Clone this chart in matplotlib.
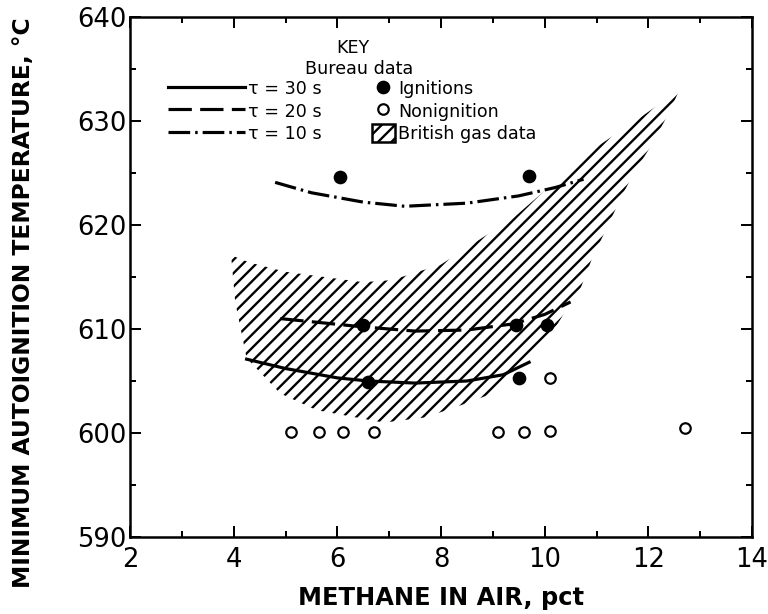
import numpy as np
import matplotlib
matplotlib.use("Agg")
from matplotlib import pyplot as plt
from matplotlib.lines import Line2D
import matplotlib.patches as mpatches
from matplotlib.ticker import MultipleLocator

# curves (methane pct, temperature C)
tau30_x = [4.25, 5.0, 6.0, 6.6, 7.5, 8.5, 9.2, 9.7]
tau30_y = [607.1, 606.2, 605.3, 605.0, 604.8, 605.0, 605.6, 606.8]
tau20_x = [4.9, 5.5, 6.5, 7.5, 8.5, 9.4, 10.0, 10.5]
tau20_y = [611.0, 610.7, 610.2, 609.8, 609.9, 610.5, 611.4, 612.6]
tau10_x = [4.8, 5.5, 6.5, 7.3, 8.5, 9.5, 10.2, 10.75]
tau10_y = [624.1, 623.1, 622.2, 621.8, 622.1, 622.8, 623.6, 624.4]

# bureau data points
ign_x = [6.05, 9.7, 6.5, 9.45, 10.05, 6.6, 9.5]
ign_y = [624.6, 624.7, 610.4, 610.4, 610.4, 604.9, 605.3]
nonign_x = [5.1, 5.65, 6.1, 6.7, 9.1, 9.6, 10.1, 10.1, 12.7]
nonign_y = [600.1, 600.1, 600.1, 600.1, 600.1, 600.1, 600.2, 605.3, 600.5]

# british gas band outline: upper edge left->right, then lower edge right->left
band_upper_x = [3.95, 4.3, 5.0, 5.9, 6.5, 7.05, 8.0, 8.65, 9.4, 10.4, 11.0, 11.75, 12.6]
band_upper_y = [617.1, 616.4, 615.5, 614.9, 614.5, 614.7, 616.2, 618.3, 620.7, 625.0, 627.5, 630.0, 633.0]
band_lower_x = [12.4, 12.05, 11.7, 11.5, 11.3, 11.1, 10.9, 10.7, 10.35, 10.0, 9.1, 8.4, 7.7, 6.9, 5.6, 4.9, 4.25, 4.03]
band_lower_y = [630.8, 627.6, 624.8, 622.9, 620.8, 618.7, 616.6, 614.0, 611.3, 608.5, 604.0, 602.7, 601.5, 601.0, 602.2, 603.8, 607.2, 612.6]

plt.rcParams['font.family'] = ['DejaVu Sans']
plt.rcParams['hatch.linewidth'] = 1.4
plt.rcParams['lines.scale_dashes'] = False

fig = plt.figure(figsize=(6.4, 614 / 120), dpi=120)
ax = fig.add_axes([130 / 768, 1 - 537 / 614, 622 / 768, 520 / 614])

# hatched band
ax.fill(band_upper_x + band_lower_x, band_upper_y + band_lower_y,
        facecolor='none', edgecolor='black', linewidth=0, hatch='///')

lw = 1.9
ax.plot(tau30_x, tau30_y, color='black', lw=lw)
ax.plot(tau20_x, tau20_y, color='black', lw=lw, dashes=(14, 5))
ax.plot(tau10_x, tau10_y, color='black', lw=lw, dashes=(13, 3, 1.5, 3))

ax.plot(ign_x, ign_y, 'o', color='black', ms=7.2, ls='none')
ax.plot(nonign_x, nonign_y, 'o', mfc='white', mec='black', mew=1.3, ms=6.3, ls='none')

ax.set_xlim(2, 14)
ax.set_ylim(590, 640)
ax.xaxis.set_major_locator(MultipleLocator(2))
ax.xaxis.set_minor_locator(MultipleLocator(1))
ax.yaxis.set_major_locator(MultipleLocator(10))
ax.yaxis.set_minor_locator(MultipleLocator(5))
ax.tick_params(which='both', direction='in', top=True, right=True, width=1.2)
ax.tick_params(which='major', length=6.5, labelsize=15.5)
ax.tick_params(axis='x', which='major', pad=6)
ax.tick_params(axis='y', which='major', pad=2)
ax.tick_params(which='minor', length=3.5)
for s in ax.spines.values():
    s.set_linewidth(1.5)

ax.set_xlabel("METHANE IN AIR, pct", fontsize=14.5, fontweight='bold', labelpad=8)
ax.set_ylabel("MINIMUM AUTOIGNITION TEMPERATURE, °C", fontsize=14, fontweight='bold')
ax.yaxis.set_label_coords(-0.153, 0.45)

# key
ax.text(0.358, 0.94, "KEY", transform=ax.transAxes, ha='center', va='center', fontsize=10.5)
ax.text(0.368, 0.9, "Bureau data", transform=ax.transAxes, ha='center', va='center', fontsize=10.5)

h1 = [Line2D([], [], color='black', lw=lw),
      Line2D([], [], color='black', lw=lw, dashes=(14, 5)),
      Line2D([], [], color='black', lw=lw, dashes=(13, 3, 1.5, 3))]
leg1 = ax.legend(h1, ["τ = 30 s", "τ = 20 s", "τ = 10 s"], loc='upper left',
                 bbox_to_anchor=(0.061, 0.88), frameon=False, borderpad=0,
                 borderaxespad=0, handlelength=4.4, handleheight=1.2,
                 handletextpad=0.15, labelspacing=0.2, fontsize=10.5)
ax.add_artist(leg1)

h2 = [Line2D([], [], marker='o', color='black', ls='none', ms=7.2),
      Line2D([], [], marker='o', mfc='white', mec='black', mew=1.3, ls='none', ms=6.3),
      mpatches.Patch(facecolor='white', edgecolor='black', hatch='///', linewidth=1.5)]
ax.legend(h2, ["Ignitions", "Nonignition", "British gas data"], loc='upper left',
          bbox_to_anchor=(0.389, 0.88), frameon=False, borderpad=0,
          borderaxespad=0, handlelength=1.3, handleheight=1.2,
          handletextpad=0.2, labelspacing=0.2, fontsize=10.5)

fig.savefig("out.png", dpi=120)
